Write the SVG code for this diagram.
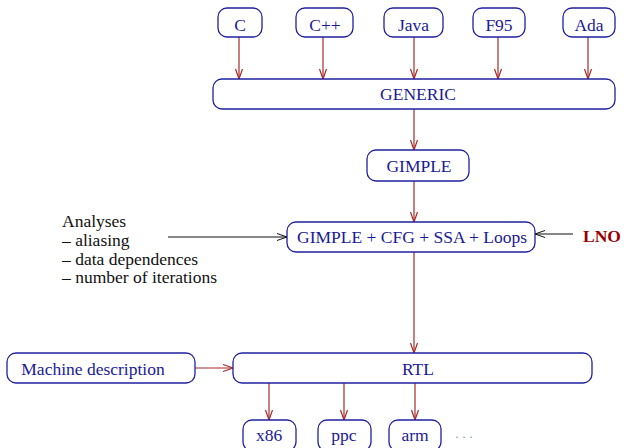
<svg xmlns="http://www.w3.org/2000/svg" width="624" height="448" viewBox="0 0 624 448">
  <style>
    .box { fill: #ffffff; stroke: #2020a0; stroke-width: 1.3; }
    .lbl { font-family: "Liberation Serif", "Times New Roman", serif; font-size: 17.5px; fill: #1a1a96; text-anchor: middle; }
    .note { font-family: "Liberation Serif", "Times New Roman", serif; font-size: 17.5px; fill: #111111; }
    .lno { font-family: "Liberation Serif", "Times New Roman", serif; font-size: 17.5px; font-weight: bold; fill: #990000; }
    .red { stroke: #a52a2a; stroke-width: 1.2; fill: none; marker-end: url(#headRed); }
    .blk { stroke: #111111; stroke-width: 1; fill: none; marker-end: url(#headBlk); }
    .dots { font-family: "Liberation Serif", "Times New Roman", serif; font-size: 12px; fill: #888888; }
  </style>
  <defs>
    <marker id="headRed" markerUnits="userSpaceOnUse" markerWidth="14" markerHeight="10" viewBox="-12 -5 14 10" refX="0" refY="0" orient="auto">
      <path d="M-10,-3.5 L0,0 L-10,3.5" fill="none" stroke="#a52a2a" stroke-width="1.2"/>
    </marker>
    <marker id="headBlk" markerUnits="userSpaceOnUse" markerWidth="14" markerHeight="10" viewBox="-12 -5 14 10" refX="0" refY="0" orient="auto">
      <path d="M-10,-3.5 L0,0 L-10,3.5" fill="none" stroke="#111111" stroke-width="1"/>
    </marker>
  </defs>
  <rect width="624" height="448" fill="#ffffff"/>

  <!-- connectors -->
  <g id="connectors">
    <line class="red" x1="239" y1="37" x2="239" y2="79"/>
    <line class="red" x1="323" y1="37" x2="323" y2="79"/>
    <line class="red" x1="414" y1="37" x2="414" y2="79"/>
    <line class="red" x1="498" y1="37" x2="498" y2="79"/>
    <line class="red" x1="588" y1="37" x2="588" y2="79"/>
    <line class="red" x1="414" y1="109" x2="414" y2="150"/>
    <line class="red" x1="414" y1="181" x2="414" y2="222"/>
    <line class="red" x1="414" y1="252" x2="414" y2="353"/>
    <line class="blk" x1="168" y1="237" x2="287" y2="237"/>
    <line class="blk" x1="573" y1="234" x2="535" y2="234"/>
    <line class="red" x1="195" y1="368" x2="233" y2="368"/>
    <line class="red" x1="269" y1="383" x2="269" y2="420"/>
    <line class="red" x1="344" y1="383" x2="344" y2="420"/>
    <line class="red" x1="415" y1="383" x2="415" y2="420"/>
  </g>

  <!-- front ends -->
  <g id="c"><rect class="box" x="218" y="8" width="44" height="29" rx="9"/><text class="lbl" x="240" y="31">C</text></g>
  <g id="cpp"><rect class="box" x="296" y="8" width="57" height="29" rx="9"/><text class="lbl" x="325" y="31">C++</text></g>
  <g id="java"><rect class="box" x="384" y="8" width="59" height="29" rx="9"/><text class="lbl" x="413.5" y="31">Java</text></g>
  <g id="f95"><rect class="box" x="473" y="8" width="52" height="29" rx="9"/><text class="lbl" x="499" y="31">F95</text></g>
  <g id="ada"><rect class="box" x="563" y="8" width="52" height="29" rx="9"/><text class="lbl" x="589" y="31">Ada</text></g>

  <!-- middle end -->
  <g id="generic"><rect class="box" x="213" y="79" width="402" height="30" rx="9"/><text class="lbl" x="418" y="100">GENERIC</text></g>
  <g id="gimple"><rect class="box" x="367" y="150" width="102" height="31" rx="9"/><text class="lbl" x="419" y="172">GIMPLE</text></g>
  <g id="gimple-ssa"><rect class="box" x="287" y="222" width="248" height="30" rx="9"/><text class="lbl" x="412" y="243">GIMPLE + CFG + SSA + Loops</text></g>

  <g id="analyses">
    <text class="note" x="62" y="227">Analyses</text>
    <text class="note" x="62" y="246">– aliasing</text>
    <text class="note" x="62" y="264.5">– data dependences</text>
    <text class="note" x="62" y="283">– number of iterations</text>
  </g>
  <g id="lno"><text class="lno" x="583" y="242">LNO</text></g>

  <!-- back end -->
  <g id="machine-description"><rect class="box" x="7" y="353" width="188" height="30" rx="9"/><text class="lbl" x="93" y="375">Machine description</text></g>
  <g id="rtl"><rect class="box" x="233" y="353" width="359" height="30" rx="9"/><text class="lbl" x="418" y="375">RTL</text></g>

  <g id="x86"><rect class="box" x="243" y="420" width="53" height="31" rx="9"/><text class="lbl" x="269" y="441">x86</text></g>
  <g id="ppc"><rect class="box" x="318" y="420" width="53" height="31" rx="9"/><text class="lbl" x="344" y="441">ppc</text></g>
  <g id="arm"><rect class="box" x="389" y="420" width="52" height="31" rx="9"/><text class="lbl" x="415" y="441">arm</text></g>
  <g id="more"><text class="dots" x="455" y="441">· · ·</text></g>
</svg>
